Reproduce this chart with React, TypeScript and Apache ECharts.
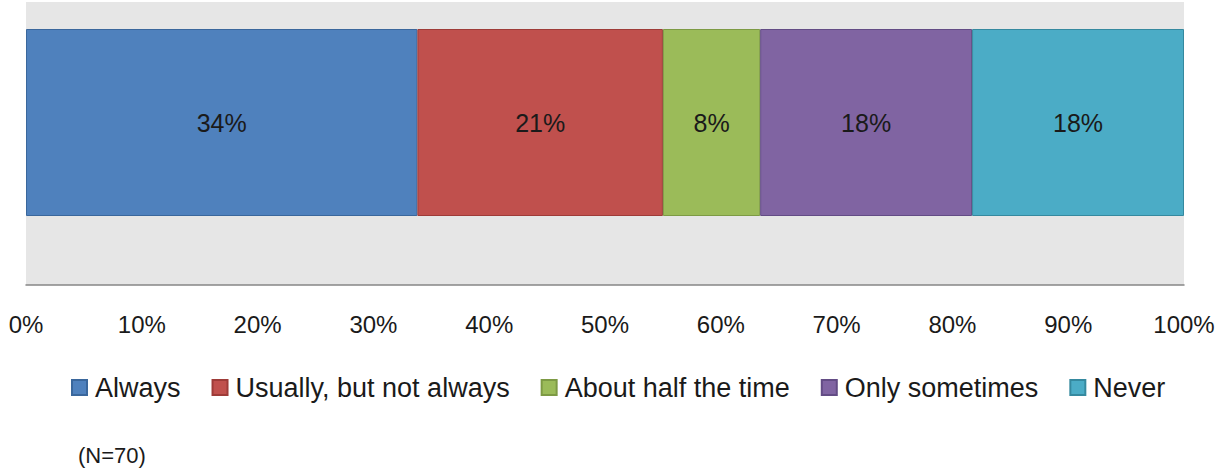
import React, { useEffect, useRef } from "react";
import * as echarts from "echarts";

const categories = ["Responses"];
const seriesNames = ["Always", "Usually, but not always", "About half the time", "Only sometimes", "Never"];
const always = [33.8];
const usually = [21.2];
const halfTime = [8.4];
const sometimes = [18.3];
const never = [18.3];
const seriesValues = [always, usually, halfTime, sometimes, never];
const colors = ["#4F81BD", "#C0504D", "#9BBB59", "#8064A2", "#4BACC6"];
const borders = ["#3A679C", "#9E3B38", "#7D9A44", "#634C85", "#35899F"];
const tickMin = 0;
const tickMax = 100;
const tickInterval = 10;
const noteText = "(N=70)";

const FONT = "'Liberation Sans', Arial, sans-serif";

export default function App() {
  const ref = useRef<HTMLDivElement>(null);
  useEffect(() => {
    if (!ref.current) return;
    const chart = echarts.init(ref.current, null, { renderer: "svg" });
    chart.setOption({
      animation: false,
      backgroundColor: "#FFFFFF",
      textStyle: { fontFamily: FONT },
      grid: [
        { left: 26, right: 34, top: 2, height: 283, show: true, backgroundColor: "#E6E6E6", borderWidth: 0 },
        { left: 26, right: 34, top: 2, height: 241, show: false },
      ],
      xAxis: [
        {
          type: "value",
          gridIndex: 0,
          min: tickMin,
          max: tickMax,
          interval: tickInterval,
          axisLine: { show: true, lineStyle: { color: "#868686", width: 1.5 } },
          axisTick: { show: false },
          splitLine: { show: false },
          axisLabel: {
            formatter: "{value}%",
            margin: 27,
            fontSize: 24,
            color: "#1a1a1a",
            fontFamily: FONT,
          },
        },
        {
          type: "value",
          gridIndex: 1,
          min: tickMin,
          max: tickMax,
          interval: tickInterval,
          show: false,
          splitLine: { show: false },
        },
      ],
      yAxis: [
        { type: "category", gridIndex: 0, data: categories, show: false },
        { type: "category", gridIndex: 1, data: categories, show: false },
      ],
      legend: {
        left: 71,
        top: 374,
        padding: 0,
        itemWidth: 15,
        itemHeight: 15,
        itemGap: 31,
        icon: "rect",
        data: seriesNames,
        textStyle: { fontSize: 27, color: "#1a1a1a", fontFamily: FONT, padding: [0, 0, 0, 3] },
      },
      graphic: [
        {
          type: "text",
          left: 78,
          top: 444,
          style: { text: noteText, fontSize: 22, fill: "#1a1a1a", fontFamily: FONT },
        },
      ],
      series: seriesNames.map((name, i) => ({
        name,
        type: "bar",
        stack: "total",
        xAxisIndex: 1,
        yAxisIndex: 1,
        barWidth: 187,
        data: seriesValues[i],
        itemStyle: { color: colors[i], borderColor: borders[i], borderWidth: 1 },
        label: {
          show: true,
          position: "inside",
          fontSize: 25,
          color: "#1a1a1a",
          fontFamily: FONT,
          formatter: (p: any) => Math.round(p.value) + "%",
        },
      })),
    });
    return () => chart.dispose();
  }, []);
  return (
    <div
      ref={ref}
      style={{ position: "absolute", left: 0, top: 0, width: 1218, height: 468 }}
    />
  );
}
